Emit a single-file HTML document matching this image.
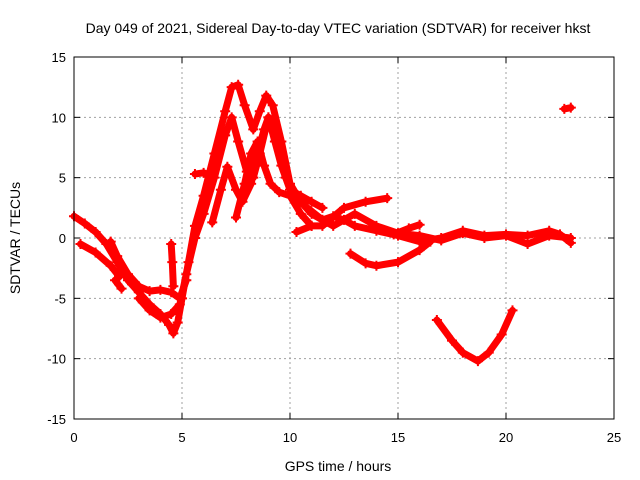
<!DOCTYPE html>
<html><head><meta charset="utf-8"><style>
body{margin:0;background:#fff}
svg{display:block;font-family:"Liberation Sans",sans-serif}
</style></head><body>
<svg id="c" width="640" height="480">
<rect x="0" y="0" width="640" height="480" fill="#fff"/>
<text x="338" y="33" font-size="14" text-anchor="middle">Day 049 of 2021, Sidereal Day-to-day VTEC variation (SDTVAR) for receiver hkst</text>
<text x="338" y="471" font-size="14" text-anchor="middle">GPS time / hours</text>
<text transform="translate(20,238) rotate(-90)" font-size="14" text-anchor="middle">SDTVAR / TECUs</text>
<g id="grid"></g><g id="marks"></g><g id="axes"></g>
</svg>
<script>
const xTicks=[0,5,10,15,20,25];
const yTicks=[-15,-10,-5,0,5,10,15];
const trackMain=[[0,1.8],[0.5,1.2],[1,0.5],[1.5,-0.5],[2,-2],[2.5,-3.5],[3,-4.5],[3.5,-5.5],[4,-6.3],[4.4,-7.2],[4.6,-7.9],[4.8,-7],[5,-5],[5.3,-2],[5.6,1],[6,3.5],[6.5,7],[7,10.5],[7.3,12.5],[7.6,12.7],[7.9,11],[8.3,9],[8.6,10.5],[8.9,11.8],[9.2,11],[9.6,8],[10,4.5],[10.5,3],[11,2],[11.5,1.5],[12,1.8],[12.5,1.5],[13,1],[14,0.6],[15,0.2],[16,-0.3],[17,0],[18,0.6],[19,0.2],[20,0.3],[21,0.2],[22,0.6],[22.5,0.3],[23,-0.4]];
const trackB=[[0.3,-0.5],[1,-1.2],[1.7,-2.3],[2.1,-3.2]];
const trackC=[[1.7,-0.3],[2,-1.5],[2.5,-3],[3,-4],[3.5,-4.4],[4,-4.3],[4.5,-4.5],[4.9,-5],[5.2,-3.5]];
const trackD=[[3,-5],[3.5,-6],[4,-6.6],[4.5,-6.3],[4.9,-5.5],[5.2,-3],[5.6,0],[6,2],[6.5,5],[7,8.5],[7.3,10],[7.6,8],[8,5.5],[8.3,5],[8.6,7],[9,10],[9.3,9.5],[9.8,5],[10.2,3.5],[10.8,2.5],[11.5,1.5],[12,1],[13,2],[14,1],[15,0.4],[16,0.2],[17,-0.2],[18,0.4],[19,0],[20,0.2],[21,-0.5],[22,0.2],[23,0]];
const trackE=[[6.4,1.3],[6.8,4],[7.1,5.9],[7.5,4],[7.8,3],[8.2,4.5],[8.5,7],[8.8,9],[9,10],[9.3,8],[9.6,6],[10,4],[10.5,3.5],[11,3],[11.5,2.5]];
const trackF=[[7.5,1.7],[7.9,4.5],[8.2,7],[8.5,8],[8.8,6],[9.1,4.5],[9.5,3.8],[10,3.5],[10.5,2],[11,1]];
const trackG=[[5.6,5.3],[6,5.4],[6.3,5.2]];
const trackH=[[10.3,0.5],[11,1],[11.5,1],[12.5,2.5],[13.5,3],[14.5,3.3]];
const trackI=[[12.8,-1.3],[13.5,-2.1],[14,-2.3],[15,-2],[16,-1],[16.5,-0.3]];
const trackJ=[[14.8,0.3],[15.5,0.8],[16,1.1]];
const trackK=[[16.8,-6.8],[17.5,-8.5],[18,-9.5],[18.7,-10.2],[19.2,-9.5],[19.8,-8],[20.3,-6]];
const trackL=[[22.7,10.7],[23,10.8]];
const trackM=[[4.5,-0.5],[4.55,-2],[4.6,-4]];
const trackN=[[1.9,-3.5],[2.2,-4.2]];
const tracks=[trackMain,trackB,trackC,trackD,trackE,trackF,trackG,trackH,trackI,trackJ,trackK,trackL,trackM,trackN];
const X0=74,X1=614,Y0=419,Y1=57;
const xs=v=>X0+(v-0)/25*(X1-X0);
const ys=v=>Y0-(v+15)/30*(Y0-Y1);
const NS="http://www.w3.org/2000/svg";
const grid=document.getElementById('grid'),axes=document.getElementById('axes'),marks=document.getElementById('marks');
function mk(t,a,p){const e=document.createElementNS(NS,t);for(const k in a)e.setAttribute(k,a[k]);p.appendChild(e);return e;}
xTicks.forEach(t=>{const x=xs(t);
 if(t>0&&t<25){const g=mk('line',{x1:x,x2:x,y1:Y1,y2:Y0,stroke:'#a0a0a0','stroke-dasharray':'2,3'},grid);
 
 }
 mk('line',{x1:x,x2:x,y1:Y0,y2:Y0-6,stroke:'#000'},axes);
 mk('line',{x1:x,x2:x,y1:Y1,y2:Y1+6,stroke:'#000'},axes);
 const l=mk('text',{x:x,y:Y0+23,'font-size':13,'text-anchor':'middle'},axes);l.textContent=t;
 
 
});
yTicks.forEach(t=>{const y=ys(t);
 if(t>-15&&t<15){const g=mk('line',{x1:X0,x2:X1,y1:y,y2:y,stroke:'#a0a0a0','stroke-dasharray':'2,3'},grid);
 
 }
 mk('line',{x1:X0,x2:X0+6,y1:y,y2:y,stroke:'#000'},axes);
 mk('line',{x1:X1,x2:X1-6,y1:y,y2:y,stroke:'#000'},axes);
 const l=mk('text',{x:X0-8,y:y+5,'font-size':13,'text-anchor':'end'},axes);l.textContent=t;
 
 
});
const fr=mk('rect',{x:X0,y:Y1,width:X1-X0,height:Y0-Y1,fill:'none',stroke:'#000'},axes);


tracks.forEach(tr=>{
 const pl=mk('polyline',{points:tr.map(p=>xs(p[0])+','+ys(p[1])).join(' '),fill:'none',stroke:'#ff0000','stroke-width':7,'stroke-linejoin':'round','stroke-linecap':'round'},marks);
 
 
 tr.forEach(p=>{const x=xs(p[0]),y=ys(p[1]);
  const m=mk('path',{d:`M${x-5},${y}H${x+5}M${x},${y-5}V${y+5}`,stroke:'#ff0000','stroke-width':2},marks);
  
  
 });
});
</script>
</body></html>
